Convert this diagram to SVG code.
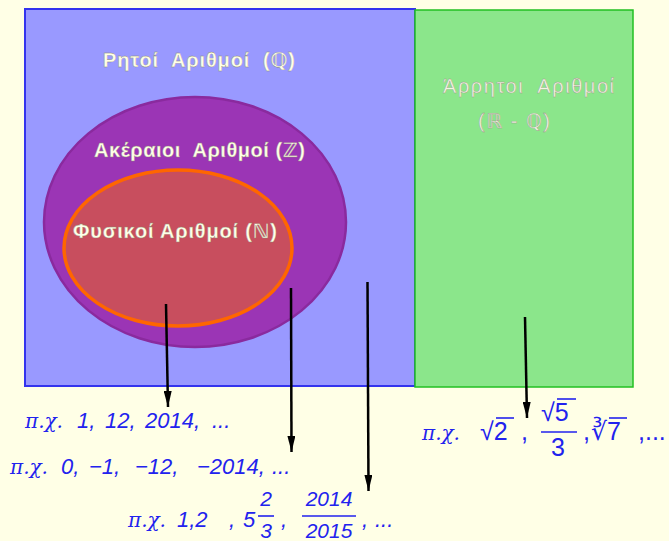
<svg xmlns="http://www.w3.org/2000/svg" width="669" height="541" viewBox="0 0 669 541">
<defs>
<marker id="ah" viewBox="0 0 16 8" refX="16" refY="4" markerWidth="16" markerHeight="8" markerUnits="userSpaceOnUse" orient="auto">
<path d="M0,0 L16,4 L0,8 Z" fill="#000"/>
</marker>
<style>
.hd{font-family:"Liberation Sans","DejaVu Sans",sans-serif;font-size:20px;font-weight:bold;fill:#FFFFE8;stroke:#8a8a70;stroke-width:0.3}
.hl{font-family:"Liberation Sans","DejaVu Sans",sans-serif;font-size:20px;fill:#F4F4E4;stroke:#9a9a88;stroke-width:0.4}
.ex{font-family:"Liberation Sans",sans-serif;font-size:22px;font-style:italic;fill:#2222EE}
.pc{font-family:"DejaVu Serif",serif;font-style:italic;font-size:20px}
.ux{font-family:"Liberation Sans","DejaVu Sans",sans-serif;font-size:25px;fill:#2222EE}
.fr{font-size:21px}
.bar{stroke:#2222EE;stroke-width:1.6}
.ar{stroke:#000;stroke-width:2.5;fill:none;marker-end:url(#ah)}
</style>
</defs>
<rect width="669" height="541" fill="#FFFFE6"/>
<g id="rational">
<rect x="25" y="9" width="390" height="377" fill="#9999FF" stroke="#3333EE" stroke-width="2"/>
<text class="hd" x="103" y="67" textLength="192" lengthAdjust="spacing" xml:space="preserve">Ρητοί  Αριθμοί  (ℚ)</text>
</g>
<g id="irrational">
<rect x="415" y="10" width="218" height="377" fill="#8BE68B" stroke="#22C022" stroke-width="1.5"/>
<text class="hl" x="443" y="93" textLength="171" lengthAdjust="spacing" xml:space="preserve">Άρρητοι  Αριθμοί</text>
<text class="hl" x="478" y="128" textLength="72" lengthAdjust="spacing">(ℝ - ℚ)</text>
</g>
<g id="integers">
<ellipse cx="195" cy="222" rx="151" ry="125" fill="#9B35B5" stroke="#8A2A9E" stroke-width="2.5"/>
<text class="hd" x="94" y="157" textLength="211" lengthAdjust="spacing" xml:space="preserve">Ακέραιοι  Αριθμοί (ℤ)</text>
</g>
<g id="naturals">
<ellipse cx="178" cy="248" rx="114" ry="78" fill="#C84E5E" stroke="#FF6600" stroke-width="3.5"/>
<text class="hd" x="73" y="238" textLength="204" lengthAdjust="spacing">Φυσικοί Αριθμοί (ℕ)</text>
</g>
<g id="connectors">
<line class="ar" x1="166" y1="304" x2="168" y2="407"/>
<line class="ar" x1="291" y1="288" x2="291.5" y2="452"/>
<line class="ar" x1="367.5" y1="282" x2="368.5" y2="491"/>
<line class="ar" x1="525" y1="317" x2="527" y2="418"/>
</g>
<g id="examples">
<text class="ex" y="428"><tspan class="pc" x="25">π.χ.</tspan><tspan x="77">1,</tspan><tspan x="105">12,</tspan><tspan x="145">2014,</tspan><tspan x="212">...</tspan></text>
<text class="ex" y="474"><tspan class="pc" x="10">π.χ.</tspan><tspan x="61">0,</tspan><tspan x="89">−1,</tspan><tspan x="135">−12,</tspan><tspan x="197">−2014,</tspan><tspan x="272">...</tspan></text>
<g>
<text class="ex" y="527"><tspan class="pc" x="128">π.χ.</tspan><tspan x="177">1,2</tspan><tspan x="229">,</tspan><tspan x="243">5</tspan></text>
<text class="ex fr" x="266" y="506" text-anchor="middle">2</text>
<line class="bar" x1="258" y1="516" x2="274" y2="516"/>
<text class="ex fr" x="266" y="538" text-anchor="middle">3</text>
<text class="ex" x="281" y="527">,</text>
<text class="ex fr" x="329" y="506" text-anchor="middle">2014</text>
<line class="bar" x1="302" y1="516" x2="356" y2="516"/>
<text class="ex fr" x="329" y="538" text-anchor="middle">2015</text>
<text class="ex" y="527"><tspan x="362">,</tspan><tspan x="375">...</tspan></text>
</g>
<g>
<text class="ex" x="422" y="440"><tspan class="pc">π.χ.</tspan></text>
<text class="ux" x="480" y="440">√2</text>
<line class="bar" x1="496" y1="418" x2="514" y2="418"/>
<text class="ux" x="521" y="440">,</text>
<text class="ux" x="541" y="421">√5</text>
<line class="bar" x1="557" y1="399" x2="576" y2="399"/>
<line class="bar" x1="541" y1="432" x2="577" y2="432"/>
<text class="ux" x="558" y="456" text-anchor="middle">3</text>
<text class="ux" x="583" y="440">,</text>
<text class="ux" x="591" y="440">∛7</text>
<line class="bar" x1="609" y1="418" x2="627" y2="418"/>
<text class="ux" x="638" y="440">,...</text>
</g>
</g>
</svg>
